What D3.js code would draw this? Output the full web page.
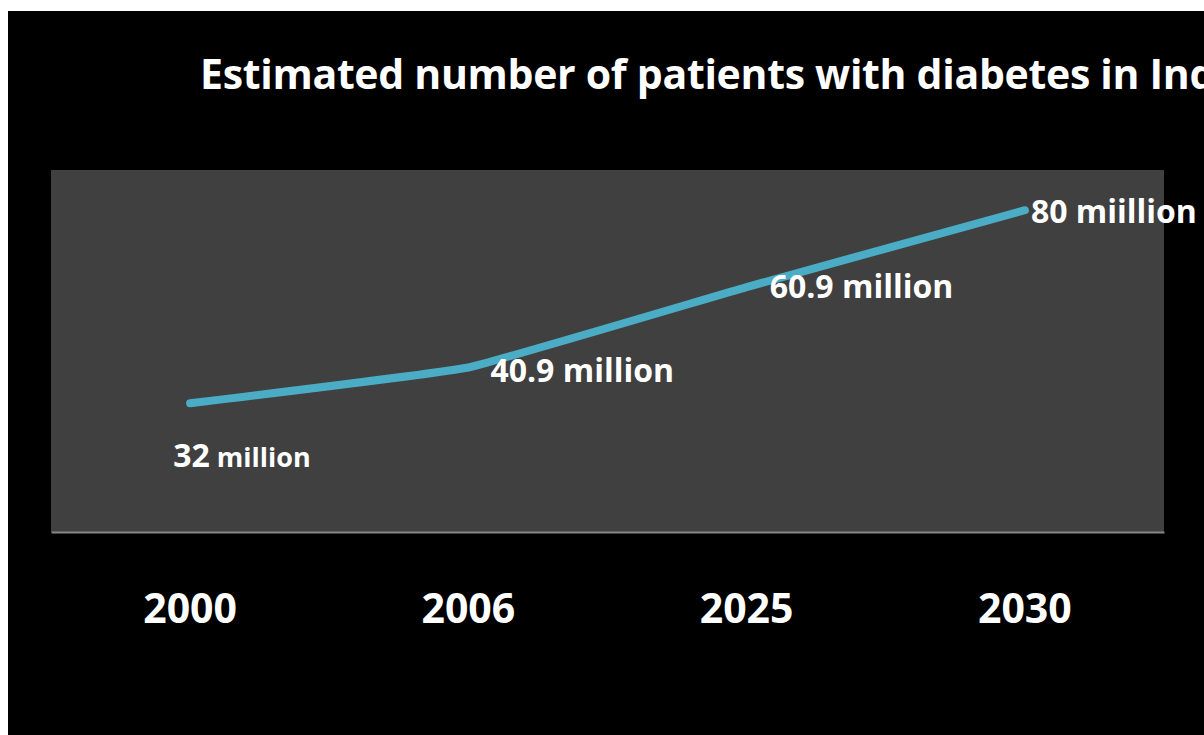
<!DOCTYPE html>
<html>
<head>
<meta charset="utf-8">
<script src="https://cdn.jsdelivr.net/npm/d3@7"></script>
<style>
    body { margin: 0; background: #fff; }
    text { font-family: "Open Sans", sans-serif; font-weight: bold; fill: #fff; }
</style>
</head>
<body>
<div id="chart-area"></div>
<script>
// data
const years = ["2000", "2006", "2025", "2030"];
const patients = [32, 40.9, 60.9, 80];
const labelNumbers = ["32", "40.9", "60.9", "80"];
const labelUnits = [" million", " million", " million", " miillion"];

const W = 1204, H = 735;
const plot = { left: 51, right: 1164, top: 170, bottom: 532 };

const svg = d3.select("#chart-area")
    .append("svg")
    .attr("width", W)
    .attr("height", H);

// black slide background (white strip on top / left)
svg.append("rect")
    .attr("x", 8)
    .attr("y", 11)
    .attr("width", W - 8)
    .attr("height", H - 11)
    .attr("fill", "#000");

// title, runs off the right edge like the original
svg.append("text")
    .attr("x", 200)
    .attr("y", 89)
    .attr("font-size", "41px")
    .attr("letter-spacing", "-0.3px")
    .text("Estimated number of patients with diabetes in India");

const x = d3.scaleBand()
    .domain(years)
    .range([plot.left, plot.right]);
const y = d3.scaleLinear()
    .domain([0, 90])
    .range([plot.bottom, plot.top]);
const cx = d => x(d) + x.bandwidth() / 2;

// plot area
svg.append("rect")
    .attr("x", plot.left)
    .attr("y", plot.top)
    .attr("width", plot.right - plot.left)
    .attr("height", plot.bottom - plot.top)
    .attr("fill", "#404040");

// x axis
const xAxis = svg.append("g")
    .attr("transform", "translate(0, " + plot.bottom + ")")
    .call(d3.axisBottom(x).tickSize(0).tickPadding(91));
xAxis.select(".domain")
    .attr("stroke", "#868686")
    .attr("stroke-width", 2);
xAxis.selectAll("text")
    .attr("fill", "#fff")
    .attr("font-family", "'Open Sans', sans-serif")
    .attr("font-weight", "bold")
    .attr("font-size", "41px")
    .attr("dy", 0);

// line (lightly smoothed)
const line = d3.line()
    .x((d, i) => cx(years[i]))
    .y(d => y(d))
    .curve(d3.curveCardinal.tension(0.75));
svg.append("path")
    .datum(patients)
    .attr("d", line)
    .attr("fill", "none")
    .attr("stroke", "#4bacc6")
    .attr("stroke-width", 8)
    .attr("stroke-linecap", "round")
    .attr("stroke-linejoin", "round");

// data labels
const offsets = [[-17, 64], [22, 15], [23, 11], [6, 13]];
const unitSizes = ["27px", "32px", "32px", "32px"];
const labels = svg.selectAll(".data-label")
    .data(patients)
    .enter()
    .append("text")
    .attr("class", "data-label")
    .attr("x", (d, i) => cx(years[i]) + offsets[i][0])
    .attr("y", (d, i) => y(d) + offsets[i][1])
    .attr("font-size", "32px");
labels.append("tspan")
    .text((d, i) => labelNumbers[i]);
labels.append("tspan")
    .attr("font-size", (d, i) => unitSizes[i])
    .text((d, i) => labelUnits[i]);
</script>
</body>
</html>
